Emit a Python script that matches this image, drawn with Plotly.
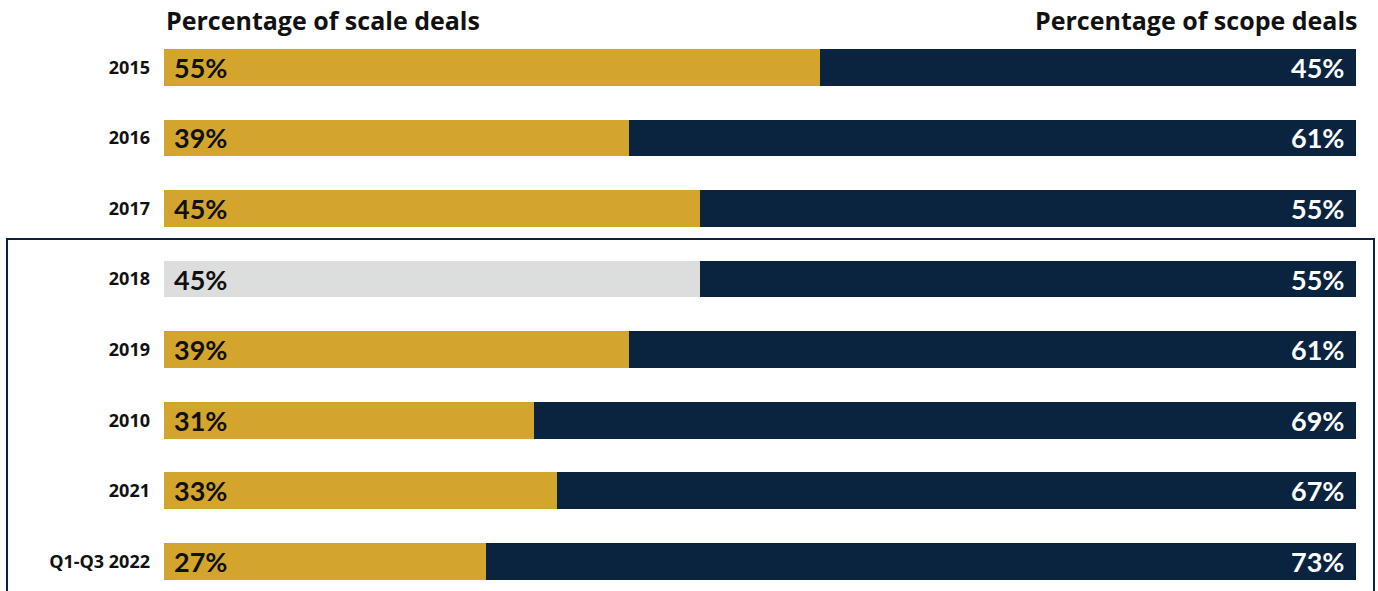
import plotly.graph_objects as go

# Deal mix by year: share of scale vs scope deals (%)
years = ["2015", "2016", "2017", "2018", "2019", "2010", "2021", "Q1-Q3 2022"]
scale_pct = [55, 39, 45, 45, 39, 31, 33, 27]
scope_pct = [45, 61, 55, 55, 61, 69, 67, 73]

GOLD = "#D4A52C"
GREY = "#DCDDDD"
NAVY = "#0A2440"

scale_colors = [GREY if y == "2018" else GOLD for y in years]
ypos = list(range(len(years)))
BAR_W = 0.52

fig = go.Figure()
fig.add_trace(go.Bar(
    y=ypos, x=scale_pct, orientation="h", width=BAR_W,
    marker=dict(color=scale_colors, line=dict(width=0)),
    name="Scale", hoverinfo="skip",
))
fig.add_trace(go.Bar(
    y=ypos, x=scope_pct, orientation="h", width=BAR_W,
    marker=dict(color=NAVY, line=dict(width=0)),
    name="Scope", hoverinfo="skip",
))

pct_font = "Lato, 'Open Sans', sans-serif"
annotations = []
for i, (a, b) in enumerate(zip(scale_pct, scope_pct)):
    annotations.append(dict(
        x=0, y=i, xref="x", yref="y", text=f"<b>{a}%</b>", showarrow=False,
        xanchor="left", xshift=8, font=dict(family=pct_font, size=27, color="#111111"),
    ))
    annotations.append(dict(
        x=a + b, y=i, xref="x", yref="y", text=f"<b>{b}%</b>", showarrow=False,
        xanchor="right", xshift=-10, font=dict(family=pct_font, size=27, color="white"),
    ))

head_font = dict(family="'Open Sans', sans-serif", size=25, color="#111111")
annotations.append(dict(
    x=0, y=1.0, xref="paper", yref="paper", yanchor="middle", xanchor="left",
    xshift=0, yshift=12,
    text="<b>Percentage of scale deals</b>", showarrow=False, font=head_font,
))
annotations.append(dict(
    x=1, y=1.0, xref="paper", yref="paper", yanchor="middle", xanchor="right",
    xshift=3, yshift=12,
    text="<b>Percentage of scope deals</b>", showarrow=False, font=head_font,
))

fig.update_layout(
    barmode="stack",
    width=1378, height=591,
    margin=dict(l=164, r=22, t=32, b=0),
    paper_bgcolor="white", plot_bgcolor="white",
    showlegend=False,
    annotations=annotations,
    shapes=[dict(
        type="rect", xref="paper", yref="paper",
        x0=-0.1317, x1=1.0151, y0=-0.1, y1=0.6297,
        line=dict(color=NAVY, width=2), fillcolor="rgba(0,0,0,0)",
    )],
)
fig.update_xaxes(range=[0, 100], visible=False, fixedrange=True)
fig.update_yaxes(
    range=[7.42, -0.5], tickmode="array", tickvals=ypos,
    ticktext=[f"<b>{y}</b>" for y in years],
    tickfont=dict(family="'Open Sans', sans-serif", size=18, color="#111111"),
    showgrid=False, zeroline=False, showline=False,
    ticks="", ticklabelstandoff=13, fixedrange=True,
)

fig.write_html("out.html")
